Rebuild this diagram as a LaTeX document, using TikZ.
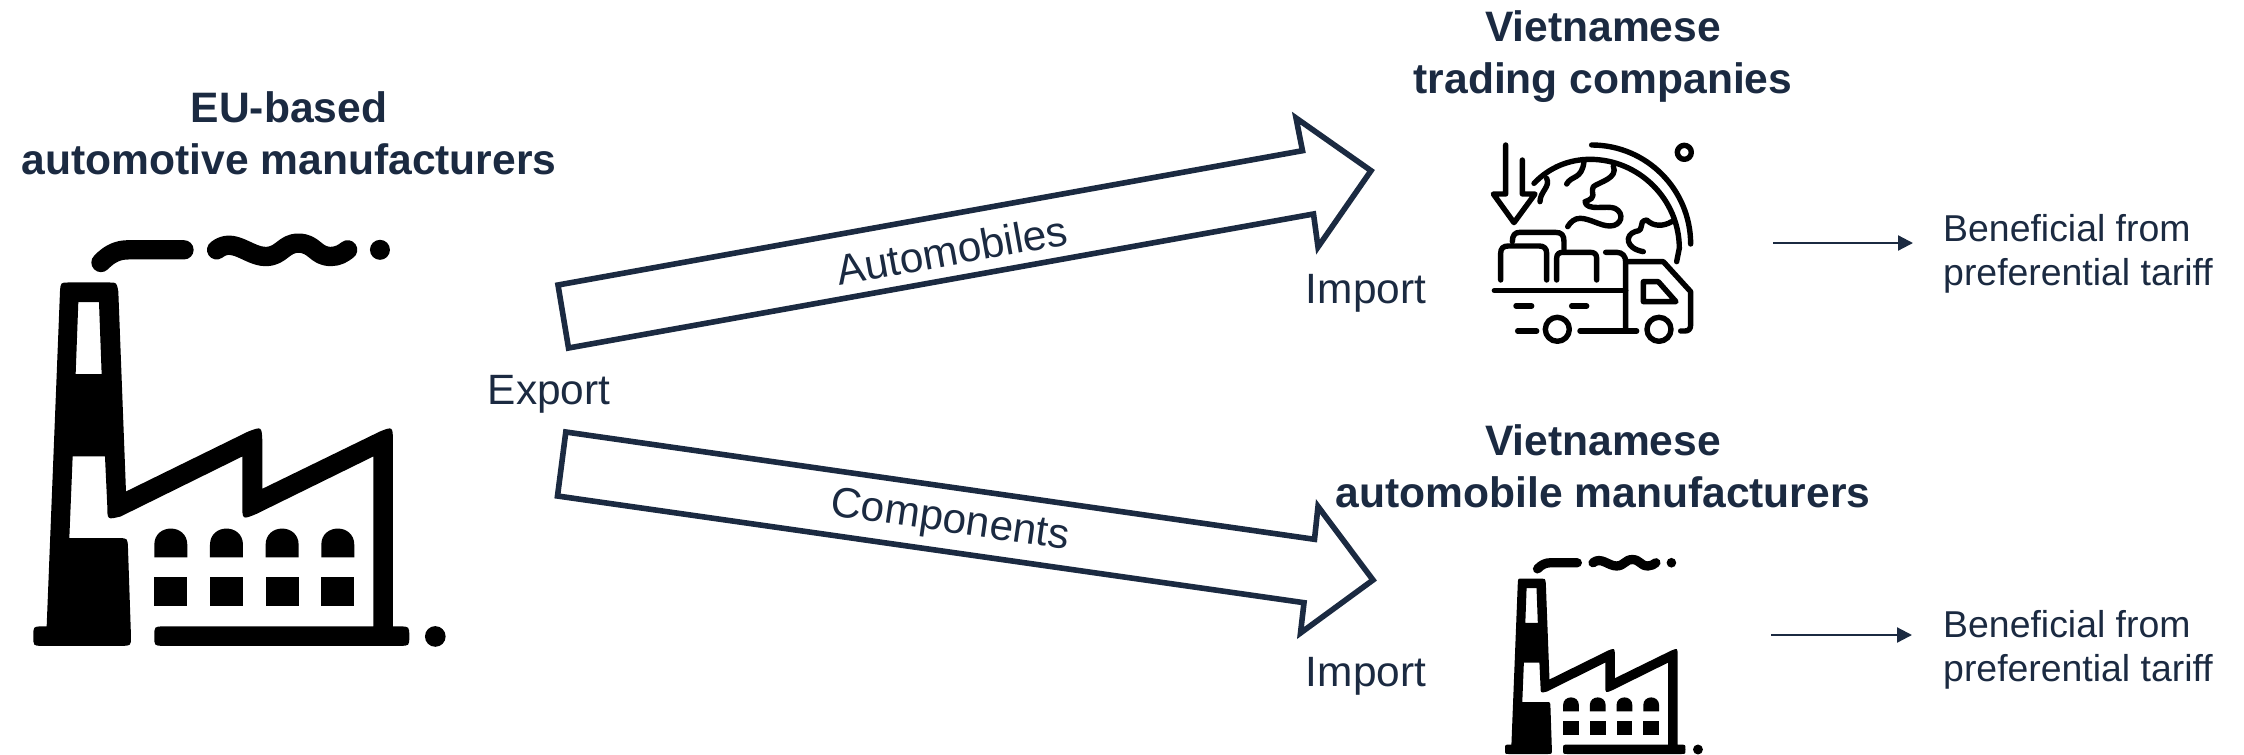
\documentclass[tikz,border=0pt]{standalone}
\usepackage{fontspec}
\setmainfont{Liberation Sans}
\usetikzlibrary{arrows.meta}
\definecolor{navy}{HTML}{1B2A41}
\tikzset{
  bigarrow/.style={draw=navy,line width=5.6pt,fill=white,line join=miter,miter limit=10},
  headtext/.style={text=navy,font=\fontsize{42.6}{52}\selectfont\bfseries,align=center,inner sep=0pt,anchor=center},
  bodytext/.style={text=navy,font=\fontsize{42.4}{42}\selectfont,inner sep=0pt},
  benefit/.style={text=navy,font=\fontsize{37.4}{44}\selectfont,align=left,inner sep=0pt,anchor=west},
  thinarrow/.style={draw=navy,line width=2.2pt,-{Triangle[length=15pt,width=15pt]}},
  ink/.style={draw=black,line cap=round,line join=round,fill=none},
}
\newcommand{\factoryicon}[5]{%
\begin{scope}[shift={(#1pt,-#2pt)},x=#3pt,y=#4pt]
\fill[black,even odd rule]
 (205,243) -- (330,243) .. controls (350,243) .. (355,270)
 -- (378,870) -- (745,690) .. controls (785,675) .. (787,715)
 -- (787,862) -- (1140,690) .. controls (1178,675) .. (1179,715)
 -- (1179,1275) -- (1200,1275) .. controls (1228,1275) .. (1228,1305) .. controls (1228,1333) .. (1200,1333)
 -- (490,1333) .. controls (463,1333) .. (463,1305) .. controls (463,1275) .. (490,1275)
 -- (1120,1275) -- (1120,765) -- (770,937) .. controls (727,955) .. (727,910)
 -- (727,765) -- (362,945) .. controls (322,955) .. (322,915)
 -- (315,765) -- (218,765) -- (208,1010) -- (355,1010) .. controls (383,1010) .. (384,1040)
 -- (393,1305) .. controls (393,1333) .. (365,1333) -- (125,1333)
 .. controls (100,1333) .. (100,1305) .. controls (100,1275) .. (125,1275) -- (140,1275)
 -- (180,270) .. controls (182,243) .. (205,243) -- cycle
 (235,302) -- (297,302) -- (305,518) -- (227,518) -- cycle;
\foreach \wx in {463,630,797,964}{
  \fill[black] (\wx,1068) -- (\wx,1030) .. controls (\wx,965) and (\wx+99,965) .. (\wx+99,1030) -- (\wx+99,1068) -- cycle;
  \fill[black] (\wx,1127) rectangle (\wx+99,1215);
}
\draw[ink,line width=#5*58pt] (303,183) .. controls (330,155) and (355,145) .. (385,145) -- (552,145);
\draw[ink,line width=#5*58pt] (650,145) .. controls (700,105) and (745,165) .. (797,165) .. controls (845,165) and (850,125) .. (895,125) .. controls (945,125) and (945,165) .. (993,165) .. controls (1015,165) and (1030,155) .. (1043,145);
\fill[black] (1140,145) ellipse (30 and 30);
\fill[black] (1306,1305) ellipse (31 and 31);
\end{scope}}
\begin{document}
\begin{tikzpicture}[x=1pt,y=-1pt]
\useasboundingbox (0,0) rectangle (2244,755);
% factories
\factoryicon{0}{201.5}{0.3333}{-0.3333}{0.3333}
\factoryicon{1489}{539.4}{0.16}{-0.161}{0.16}
% truck icon
\begin{scope}[shift={(1440pt,-120pt)},x=0.3333pt,y=-0.3333pt,ink,line width=5.4pt]
\draw (197,75) -- (197,222) -- (160,222) -- (222,308) -- (285,222) -- (247,222) -- (247,120);
\draw (455,75) .. controls (619,75) and (752,208) .. (752,372);
\draw (282,190) .. controls (330,140) and (390,118) .. (450,118) .. controls (597,118) and (718,238) .. (718,385) -- (710,425);
\draw (733,97) circle [radius=21];
\draw (320,175) .. controls (332,200) and (300,215) .. (300,245);
\draw (380,192) .. controls (395,165) and (425,180) .. (432,125);
\draw (520,138) .. controls (535,175) and (480,185) .. (460,200) .. controls (450,225) and (475,230) .. (435,245) .. controls (440,275) and (500,255) .. (525,265) .. controls (555,280) and (545,318) .. (510,318) .. controls (480,318) and (450,295) .. (420,295) .. controls (405,295) and (392,305) .. (383,320);
\draw (695,305) .. controls (670,320) and (640,320) .. (620,300) .. controls (590,305) and (620,330) .. (585,335) .. controls (555,345) and (555,385) .. (610,395);
\draw (217,365) .. controls (217,345) and (225,337) .. (240,337) -- (345,337) .. controls (365,337) and (372,345) .. (372,365) -- (372,397);
\draw (182,480) -- (182,400) .. controls (182,385) and (190,378) .. (205,378) -- (297,378) .. controls (312,378) and (320,385) .. (320,400) -- (320,480);
\draw (350,480) -- (350,415) .. controls (350,402) and (357,397) .. (370,397) -- (450,397) .. controls (463,397) and (470,402) .. (470,415) -- (470,480);
\draw (497,397) -- (530,397) .. controls (548,397) and (557,410) .. (557,425) -- (557,633);
\draw (557,425) -- (670,425) -- (752,515) -- (752,615) .. controls (752,628) and (745,633) .. (735,633) -- (722,633);
\draw (163,512) -- (557,512);
\draw (352,628) circle [radius=36];
\draw (657,628) circle [radius=36];
\draw (420,633) -- (590,633);
\draw (233,633) -- (290,633);
\draw (228,558) -- (275,558);
\draw (395,558) -- (440,558);
\draw (610,485) -- (655,485) -- (708,545) -- (610,545) -- cycle;
\end{scope}
% block arrows
\draw[bigarrow] (558,285) -- (1302.5,150.7) -- (1296,118) -- (1371,170.7) -- (1318,247) -- (1313.5,214) -- (568.5,348) -- cycle;
\draw[bigarrow] (565.8,432) -- (1314.5,539.3) -- (1318,506.5) -- (1373,580) -- (1300.5,633) -- (1304,602.7) -- (557.5,496) -- cycle;
% labels
\node[bodytext,rotate=10.2] (autolabel) at (952,250) {Automobiles};
\node[bodytext,rotate=-8.2] (complabel) at (950,522) {Components};
\node[bodytext] (export) at (549,394) {Export};
\node[bodytext] (import1) at (1366,293) {Import};
\node[bodytext] (import2) at (1366,676) {Import};
\node[headtext] (eu) at (289,133) {EU-based\\automotive manufacturers};
\node[headtext] (vt) at (1603,57) {Vietnamese\\trading companies};
\node[headtext] (vm) at (1603,466) {Vietnamese\\automobile manufacturers};
\node[benefit] (ben1) at (1943,254) {Beneficial from\\preferential tariff};
\node[benefit] (ben2) at (1943,650) {Beneficial from\\preferential tariff};
% thin arrows
\coordinate (a1s) at (1773,243);
\coordinate (a1e) at (1913,243);
\coordinate (a2s) at (1771,635);
\coordinate (a2e) at (1912,635);
\draw[thinarrow] (a1s) -- (a1e);
\draw[thinarrow] (a2s) -- (a2e);
\end{tikzpicture}
\end{document}
